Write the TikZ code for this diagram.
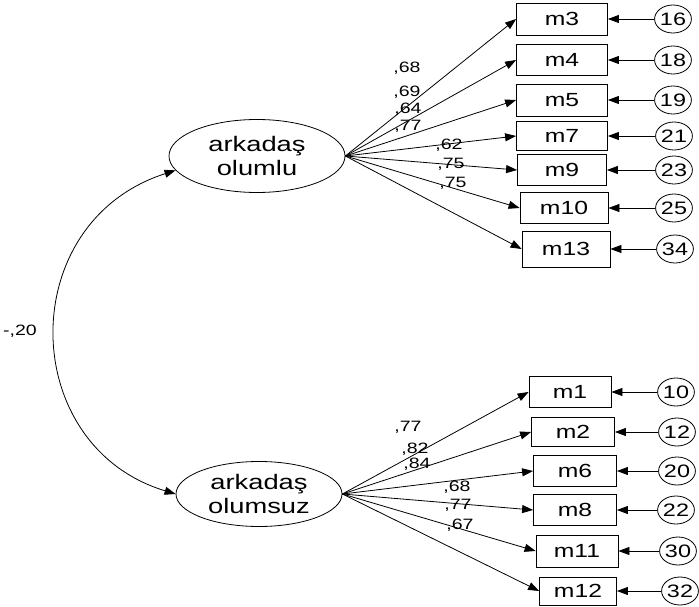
\documentclass[tikz,border=0pt]{standalone}
\usepackage{fontspec}
\setmainfont[FakeStretch=1.3]{Liberation Sans}
\usetikzlibrary{arrows.meta,shapes.geometric}

\tikzset{
	latent/.style={draw, ellipse, inner sep=0pt, align=center, line width=0.8pt, font=\fontsize{21}{24}\selectfont},
	obs/.style={draw, rectangle, inner sep=0pt, line width=0.8pt, font=\fontsize{19}{21}\selectfont},
	err/.style={draw, ellipse, inner sep=0pt, minimum width=33pt, minimum height=28pt, line width=0.8pt, font=\fontsize{18}{20}\selectfont},
	coef/.style={inner sep=0pt, font=\fontsize{15}{17}\selectfont},
	load/.style={-{Triangle[length=11pt,width=8pt]}, line width=0.8pt},
	cov/.style={{Triangle[length=11pt,width=8pt]}-{Triangle[length=11pt,width=8pt]}, line width=0.8pt}
}

\begin{document}
\begin{tikzpicture}[x=1pt,y=-1pt]
	\useasboundingbox (0,0) rectangle (699,607);
	% latent factors
	\node[latent, minimum width=176pt, minimum height=73pt] (up) at (257,156) {arkada\c{s}\\olumlu};
	\node[latent, minimum width=166pt, minimum height=65pt] (low) at (259,494) {arkada\c{s}\\olumsuz};
	% correlation between factors
	\draw[cov] (up.190) .. controls (14,222) and (17,446) .. (low.west);
	\node[coef] (r) at (20,331) {-,20};
	% indicators of the first factor
	\foreach \n/\x/\y/\w/\h/\e/\ex in {3/562/19/91/32/16/673, 4/562/60/91/31/18/673, 5/562/100/91/32/19/673, 7/562/136/91/29/21/674, 9/562/170/89/31/23/674, 10/564/208/88/31/25/674, 13/566/249/88/36/34/675,
		1/570/392/82/31/10/676, 2/573/432/83/29/12/677, 6/575/471/83/31/20/677, 8/575/510/83/31/22/676, 11/577/551/82/32/30/678, 12/578/591/77/28/32/680} {
		\node[obs, minimum width=\w pt, minimum height=\h pt] (m\n) at (\x,\y) {m\n};
		\node[err] (e\n) at (\ex,\y) {\e};
		\draw[load] (e\n) -- (m\n);
	}
	% loadings
	\foreach \n/\lx/\ly/\v in {3/407/68/68, 4/407/92/69, 5/408/109/64, 7/408/126/77, 9/449/145/62, 10/451/164/75, 13/453/183/75} {
		\draw[load] (up.east) -- (m\n.west);
		\node[coef] (l\n) at (\lx,\ly) {,\v};
	}
	\foreach \n/\lx/\ly/\v in {1/408/427/77, 2/415/449/82, 6/417/464/84, 8/457/487/68, 11/458/505/77, 12/460/525/67} {
		\draw[load] (low.east) -- (m\n.west);
		\node[coef] (l\n) at (\lx,\ly) {,\v};
	}
\end{tikzpicture}
\end{document}
